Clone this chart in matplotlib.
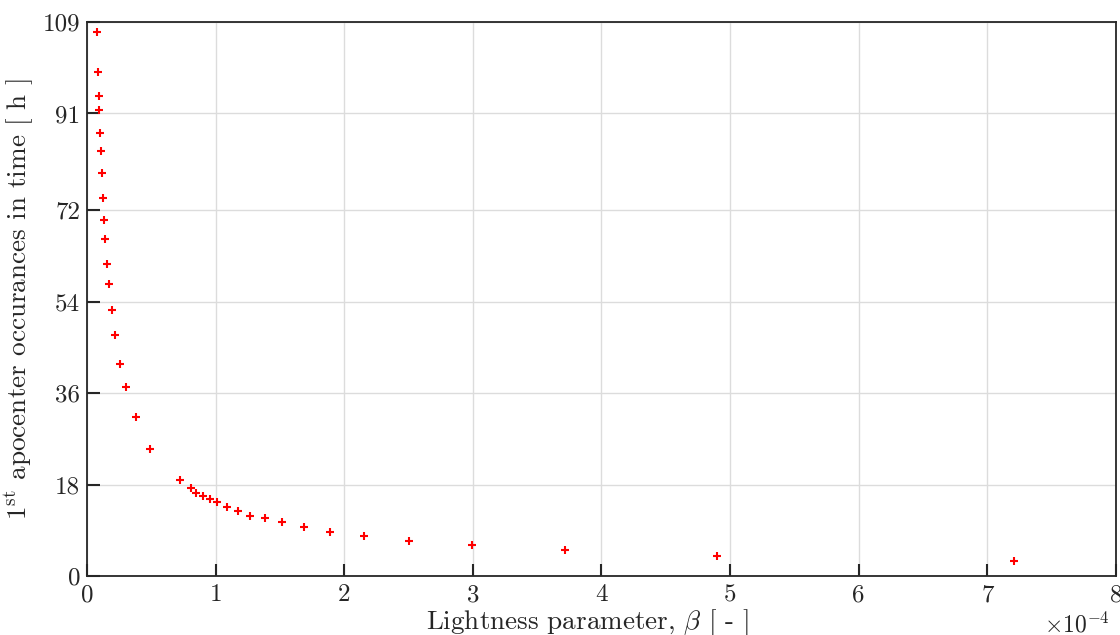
import numpy as np
import matplotlib
matplotlib.use('Agg')
import matplotlib.pyplot as plt

# lightness parameter beta, in units of 1e-4
beta_e4 = [0.075, 0.086, 0.091, 0.096, 0.101, 0.107, 0.114, 0.122, 0.130, 0.140,
           0.158, 0.173, 0.194, 0.220, 0.254, 0.306, 0.379, 0.492, 0.723, 0.806,
           0.850, 0.900, 0.956, 1.013, 1.089, 1.174, 1.267, 1.380, 1.516, 1.685,
           1.890, 2.154, 2.504, 2.994, 3.717, 4.901, 7.206]
# time of first apocenter occurrence [h]
t_apo = [107.0, 99.1, 94.4, 91.7, 87.1, 83.7, 79.2, 74.3, 70.0, 66.4,
         61.3, 57.4, 52.4, 47.5, 41.8, 37.1, 31.3, 25.0, 18.9, 17.3,
         16.4, 15.7, 15.1, 14.5, 13.6, 12.7, 11.9, 11.35, 10.56, 9.58,
         8.72, 7.81, 6.95, 6.10, 5.12, 4.0, 2.95]

y_ticks = [0, 18, 36, 54, 72, 91, 109]
x_ticks = [0, 1, 2, 3, 4, 5, 6, 7, 8]

plt.rcParams['font.family'] = 'serif'
plt.rcParams['font.serif'] = ['cmr10']
plt.rcParams['mathtext.fontset'] = 'cm'
plt.rcParams['axes.unicode_minus'] = False

txt = '#262626'
fig = plt.figure(figsize=(11.2, 6.35), dpi=100)
ax = fig.add_axes([0.0777, 0.0929, 0.9187, 0.8725])

ax.plot(beta_e4, t_apo, '+', color='red', markersize=6, markeredgewidth=1.5)

ax.set_xlim(0, 8)
ax.set_ylim(0, 109)
ax.set_xticks(x_ticks)
ax.set_xticklabels([str(v) for v in x_ticks])
ax.set_yticks(y_ticks)
ax.set_yticklabels([str(v) for v in y_ticks])

ax.grid(True, color='#dcdcdc', linewidth=1.0)
ax.set_axisbelow(True)
for s in ax.spines.values():
    s.set_color(txt)
    s.set_linewidth(1.3)
ax.tick_params(direction='in', length=9, width=1.5, colors=txt, labelsize=18)
ax.tick_params(axis='x', pad=6)
ax.tick_params(axis='y', pad=5)

ax.set_xlabel(r'Lightness parameter, $\beta$ [ - ]', fontsize=19.5, color=txt)
ax.xaxis.set_label_coords(0.486, -0.056, transform=ax.transAxes)
ax.xaxis.label.set_va('top')
ax.set_ylabel(r'$1^{\mathrm{st}}$ apocenter occurances in time [ h ]', fontsize=19.6,
              color=txt, labelpad=4)
ax.text(0.994, -0.088, r'$\times10^{\mathrm{-4}}$', transform=ax.transAxes,
        ha='right', va='center', fontsize=17, color=txt)

fig.savefig('out.png', dpi=100)
